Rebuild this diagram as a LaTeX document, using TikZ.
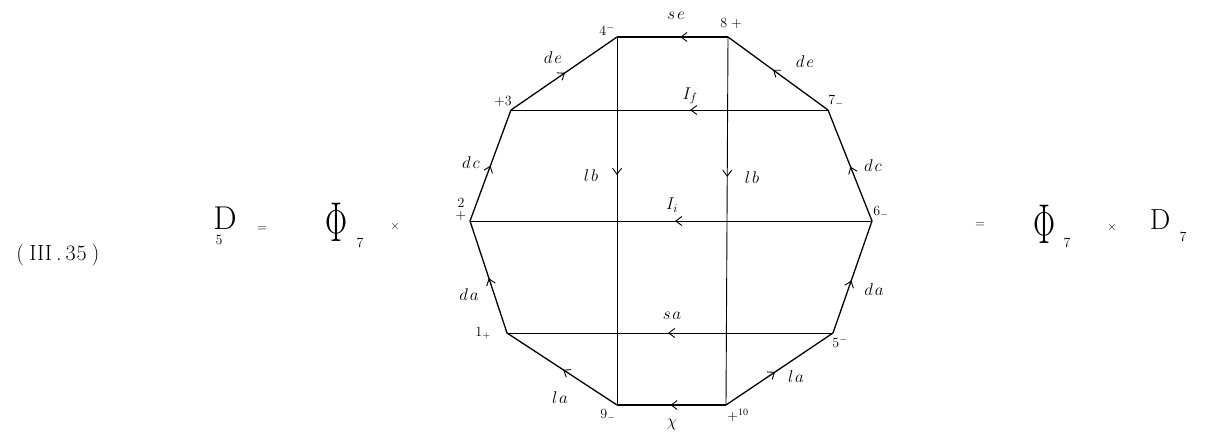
\RequirePackage{fix-cm}
\documentclass[tikz,border=0pt]{standalone}
\usetikzlibrary{decorations.markings,arrows.meta}
\begin{document}
\begin{tikzpicture}[x=1pt,y=-1pt,
  edge/.style={line width=1.3pt},
  inner/.style={line width=0.9pt},
  marr/.style={postaction={decorate,decoration={markings,mark=at position #1 with {\arrow{Straight Barb[length=6pt,width=9pt,line width=0.9pt]}}}}},
  lab/.style={font=\fontsize{17}{20}\selectfont, inner sep=0pt},
  vlab/.style={font=\fontsize{14}{16}\selectfont, inner sep=0pt},
  eq/.style={font=\fontsize{33}{38}\selectfont, inner sep=0pt},
  small/.style={font=\fontsize{14}{16}\selectfont, inner sep=0pt}]
\useasboundingbox (0,0) rectangle (1207,435);
% vertices
\coordinate (v1) at (507,333);
\coordinate (v2) at (470,221);
\coordinate (v3) at (511,110);
\coordinate (v4) at (617,37);
\coordinate (v8) at (728,37);
\coordinate (v7) at (828,110);
\coordinate (v6) at (872,221);
\coordinate (v5) at (833,333);
\coordinate (v10) at (726,405);
\coordinate (v9) at (617,405);
% polygon edges
\draw[edge,marr=0.43] (v8) -- (v4);
\draw[edge,marr=0.51] (v3) -- (v4);
\draw[edge,marr=0.55] (v7) -- (v8);
\draw[edge,marr=0.5] (v2) -- (v3);
\draw[edge,marr=0.49] (v6) -- (v7);
\draw[edge,marr=0.49] (v1) -- (v2);
\draw[edge,marr=0.47] (v5) -- (v6);
\draw[edge,marr=0.49] (v9) -- (v1);
\draw[edge,marr=0.46] (v10) -- (v5);
\draw[edge,marr=0.51] (v10) -- (v9);
% interior lines
\draw[inner,marr=0.435] (v7) -- (v3);
\draw[inner,marr=0.49] (v6) -- (v2);
\draw[inner,marr=0.506] (v5) -- (v1);
\draw[inner,marr=0.375] (v4) -- (v9);
\draw[inner,marr=0.38] (v8) -- (v10);
% edge labels
\node[lab] (lse) at (676,16) {$s\mkern2mu e$};
\node[lab] (lde1) at (553,58) {$d\mkern2mu e$};
\node[lab] (lde2) at (805,62) {$d\mkern2mu e$};
\node[lab] (lIf) at (690,96) {$I_f$};
\node[lab] (lIi) at (672,205) {$I_i$};
\node[lab] (lsa) at (672,316) {$s\mkern2mu a$};
\node[lab] (lchi) at (672,424) {$\chi$};
\node[lab] (ldc1) at (471,163) {$d\mkern2mu c$};
\node[lab] (ldc2) at (873,166) {$d\mkern2mu c$};
\node[lab] (llb1) at (591,176) {$l\mkern2mu b$};
\node[lab] (llb2) at (752,178) {$l\mkern2mu b$};
\node[lab] (lda1) at (469,295) {$d\mkern2mu a$};
\node[lab] (lda2) at (874,290) {$d\mkern2mu a$};
\node[lab] (lla1) at (560,398) {$l\mkern2mu a$};
\node[lab] (lla2) at (796,377) {$l\mkern2mu a$};
% vertex labels
\node[vlab] (n4) at (607,30) {$4^{-}$};
\node[vlab] (n8) at (731,24) {$8\;{+}$};
\node[vlab] (n3) at (503,102) {${+}3$};
\node[vlab] (n7) at (836,101) {$7_{-}$};
\node[vlab] (n2) at (461,203) {$2$};
\node[vlab] (n2s) at (461,216) {${+}$};
\node[vlab] (n6) at (881,212) {$6_{-}$};
\node[vlab] (n1) at (483,333) {$1_{+}$};
\node[vlab] (n5) at (840,342) {$5^{-}$};
\node[vlab] (n9) at (608,415) {$9_{-}$};
\node[vlab] (n10) at (738,415) {${+}^{10}$};
% equation
\node[font=\fontsize{22}{26}\selectfont, inner sep=0pt] (eqno) at (58,255) {(\hspace{5pt}III\hspace{4pt}.\hspace{4pt}3\hspace{1pt}5\hspace{5pt})};
\node[eq] (D1) at (225,218) {$\mathrm{D}$};
\node[small] (D1s) at (219,240) {$5$};
\node[font=\fontsize{13}{15}\selectfont, inner sep=0pt] (eq1) at (262,229) {$=$};
\node[eq] (P1) at (337,222) {\scalebox{1}[1.7]{$\Phi$}};
\node[small] (P1s) at (360,243) {$7$};
\node[font=\fontsize{12}{14}\selectfont, inner sep=0pt] (x1) at (395,227) {$\times$};
\node[font=\fontsize{13}{15}\selectfont, inner sep=0pt] (eq2) at (980,225) {$=$};
\node[eq] (P2) at (1045,224) {\scalebox{1}[1.7]{$\Phi$}};
\node[small] (P2s) at (1067,243) {$7$};
\node[font=\fontsize{12}{14}\selectfont, inner sep=0pt] (x2) at (1112,228) {$\times$};
\node[font=\fontsize{29}{34}\selectfont, inner sep=0pt] (D2) at (1160,220) {$\mathrm{D}$};
\node[small] (D2s) at (1183,237) {$7$};
\end{tikzpicture}
\end{document}
